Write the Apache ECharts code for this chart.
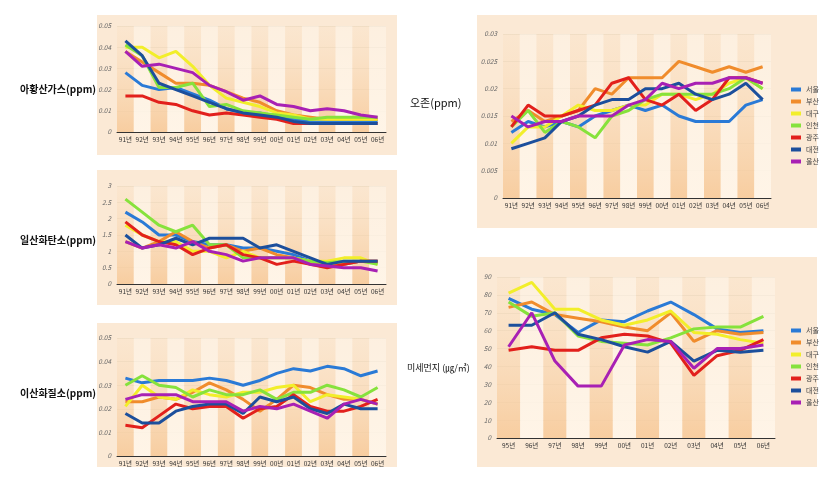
<!DOCTYPE html>
<html><head><meta charset="utf-8">
<script src="https://cdn.jsdelivr.net/npm/echarts@6/dist/echarts.min.js"></script>
<style>html,body{margin:0;padding:0;background:#fff}#c{width:840px;height:479px}</style>
</head><body><div id="c"></div>
<script>
const regions = ['서울','부산','대구','인천','광주','대전','울산'];
const colors = ['#2a7ad6','#f08c2c','#f2ee2a','#86e23c','#e2201c','#1c4f9c','#a820b4'];
const years16 = ['91년','92년','93년','94년','95년','96년','97년','98년','99년','00년','01년','02년','03년','04년','05년','06년'];
const years12 = ['95년','96년','97년','98년','99년','00년','01년','02년','03년','04년','05년','06년'];

// 아황산가스 (ppm)
const so2_seoul   = [0.028,0.022,0.020,0.021,0.018,0.015,0.011,0.009,0.009,0.007,0.006,0.005,0.005,0.005,0.005,0.005];
const so2_busan   = [0.038,0.033,0.028,0.023,0.023,0.022,0.019,0.016,0.014,0.010,0.008,0.007,0.006,0.006,0.006,0.006];
const so2_daegu   = [0.040,0.040,0.035,0.038,0.031,0.022,0.016,0.014,0.012,0.009,0.008,0.006,0.006,0.006,0.006,0.006];
const so2_incheon = [0.041,0.036,0.021,0.021,0.023,0.012,0.013,0.010,0.009,0.008,0.007,0.006,0.007,0.007,0.007,0.007];
const so2_gwangju = [0.017,0.017,0.014,0.013,0.010,0.008,0.009,0.008,0.007,0.006,0.004,0.004,0.004,0.004,0.004,0.004];
const so2_daejeon = [0.043,0.036,0.023,0.020,0.017,0.014,0.011,0.009,0.008,0.007,0.005,0.004,0.004,0.004,0.004,0.004];
const so2_ulsan   = [0.038,0.031,0.032,0.030,0.028,0.022,0.019,0.015,0.017,0.013,0.012,0.010,0.011,0.010,0.008,0.007];

// 일산화탄소 (ppm)
const co_seoul   = [2.2,1.9,1.5,1.5,1.3,1.2,1.2,1.1,1.1,1.0,0.9,0.7,0.6,0.6,0.7,0.7];
const co_busan   = [1.3,1.1,1.3,1.6,1.3,1.1,1.2,1.0,1.1,0.9,0.8,0.7,0.6,0.6,0.7,0.7];
const co_daegu   = [1.8,1.5,1.3,1.3,1.0,1.0,0.8,1.0,0.8,0.8,0.8,0.7,0.7,0.8,0.8,0.6];
const co_incheon = [2.6,2.2,1.8,1.6,1.8,1.2,1.2,0.8,0.8,0.8,0.8,0.7,0.65,0.7,0.7,0.6];
const co_gwangju = [1.9,1.5,1.3,1.2,0.9,1.1,1.2,0.9,0.8,0.6,0.7,0.6,0.5,0.6,0.7,0.7];
const co_daejeon = [1.5,1.1,1.2,1.4,1.2,1.4,1.4,1.4,1.1,1.2,1.0,0.8,0.6,0.7,0.7,0.7];
const co_ulsan   = [1.3,1.1,1.2,1.1,1.3,1.0,0.9,0.7,0.8,0.8,0.8,0.6,0.55,0.5,0.5,0.4];

// 이산화질소 (ppm)
const no2_seoul   = [0.033,0.031,0.032,0.032,0.032,0.033,0.032,0.030,0.032,0.035,0.037,0.036,0.038,0.037,0.034,0.036];
const no2_busan   = [0.023,0.023,0.025,0.024,0.027,0.031,0.028,0.024,0.019,0.024,0.030,0.029,0.026,0.024,0.024,0.022];
const no2_daegu   = [0.021,0.030,0.025,0.024,0.028,0.026,0.025,0.027,0.027,0.029,0.030,0.023,0.026,0.025,0.024,0.022];
const no2_incheon = [0.030,0.034,0.030,0.029,0.025,0.028,0.026,0.026,0.028,0.024,0.027,0.027,0.030,0.028,0.025,0.029];
const no2_gwangju = [0.013,0.012,0.017,0.022,0.020,0.021,0.021,0.016,0.020,0.021,0.026,0.021,0.019,0.019,0.021,0.024];
const no2_daejeon = [0.018,0.014,0.014,0.019,0.021,0.022,0.022,0.018,0.025,0.023,0.025,0.020,0.018,0.022,0.020,0.020];
const no2_ulsan   = [0.024,0.026,0.026,0.026,0.023,0.023,0.023,0.019,0.021,0.020,0.022,0.019,0.016,0.022,0.024,0.022];

// 오존 (ppm)
const o3_seoul   = [0.012,0.014,0.013,0.014,0.013,0.015,0.016,0.017,0.016,0.017,0.015,0.014,0.014,0.014,0.017,0.018];
const o3_busan   = [0.014,0.016,0.014,0.015,0.016,0.020,0.019,0.022,0.022,0.022,0.025,0.024,0.023,0.024,0.023,0.024];
const o3_daegu   = [0.010,0.013,0.013,0.015,0.017,0.016,0.016,0.017,0.017,0.019,0.019,0.018,0.019,0.021,0.022,0.020];
const o3_incheon = [0.013,0.016,0.012,0.014,0.013,0.011,0.015,0.016,0.018,0.019,0.019,0.019,0.019,0.020,0.022,0.020];
const o3_gwangju = [0.013,0.017,0.015,0.015,0.016,0.017,0.021,0.022,0.018,0.017,0.019,0.016,0.018,0.022,0.022,0.021];
const o3_daejeon = [0.009,0.010,0.011,0.014,0.015,0.017,0.018,0.018,0.020,0.020,0.021,0.019,0.018,0.019,0.021,0.018];
const o3_ulsan   = [0.015,0.013,0.014,0.014,0.015,0.015,0.015,0.017,0.018,0.021,0.020,0.021,0.021,0.022,0.022,0.021];

// 미세먼지 (㎍/㎥)
const pm_seoul   = [78,72,69,59,66,65,71,76,69,61,59,60];
const pm_busan   = [73,76,69,67,65,62,60,70,54,60,58,59];
const pm_daegu   = [81,87,72,72,66,63,66,71,59,58,55,53];
const pm_incheon = [76,68,70,57,54,53,52,56,61,62,62,68];
const pm_gwangju = [49,51,49,49,56,58,57,53,35,46,49,55];
const pm_daejeon = [63,63,70,58,55,51,48,54,43,49,48,49];
const pm_ulsan   = [51,70,43,29,29,52,55,54,39,50,50,52];

const panels = [
  {data:[so2_seoul,so2_busan,so2_daegu,so2_incheon,so2_gwangju,so2_daejeon,so2_ulsan], cats:years16, max:0.05, interval:0.01},
  {data:[co_seoul,co_busan,co_daegu,co_incheon,co_gwangju,co_daejeon,co_ulsan], cats:years16, max:3, interval:0.5},
  {data:[no2_seoul,no2_busan,no2_daegu,no2_incheon,no2_gwangju,no2_daejeon,no2_ulsan], cats:years16, max:0.05, interval:0.01},
  {data:[o3_seoul,o3_busan,o3_daegu,o3_incheon,o3_gwangju,o3_daejeon,o3_ulsan], cats:years16, max:0.03, interval:0.005},
  {data:[pm_seoul,pm_busan,pm_daegu,pm_incheon,pm_gwangju,pm_daejeon,pm_ulsan], cats:years12, max:90, interval:10}
];
const grids = [
  {left:117, top:26, width:269, height:106},
  {left:117, top:186, width:269, height:98},
  {left:117, top:338, width:269, height:118},
  {left:503, top:34, width:268, height:164},
  {left:497, top:277, width:278, height:161}
];
const boxes = [[97,15,300,140],[97,170,300,135],[97,323,300,144],[477,15,340,213],[477,257,340,210]];

const darkBand = new echarts.graphic.LinearGradient(0,0,0,1,[{offset:0,color:'rgba(250,224,194,0.3)'},{offset:1,color:'rgba(247,202,154,0.9)'}]);
const lightBand = new echarts.graphic.LinearGradient(0,0,0,1,[{offset:0,color:'rgba(255,246,234,0.5)'},{offset:1,color:'rgba(255,245,232,0.95)'}]);

const option = {
  animation:false,
  textStyle:{fontFamily:'"Noto Sans CJK KR", sans-serif'},
  graphic: boxes.map(b=>({type:'rect', z:-10, shape:{x:b[0],y:b[1],width:b[2],height:b[3]},
     style:{fill:'#fbe9d5'}})).concat([
    {type:'text', left:20, top:84, style:{text:'아황산가스(ppm)', font:'bold 10px "Noto Sans CJK KR"', fill:'#111'}},
    {type:'text', left:20, top:235, style:{text:'일산화탄소(ppm)', font:'bold 10px "Noto Sans CJK KR"', fill:'#111'}},
    {type:'text', left:20, top:388, style:{text:'이산화질소(ppm)', font:'bold 10px "Noto Sans CJK KR"', fill:'#111'}},
    {type:'text', left:410, top:97, style:{text:'오존(ppm)', font:'11px "Noto Sans CJK KR"', fill:'#111'}},
    {type:'text', left:407, top:363, style:{text:'미세먼지 (㎍/㎥)', font:'9px "Noto Sans CJK KR"', fill:'#111'}}
  ]),
  legend:[
    {orient:'vertical', left:786, top:81, itemWidth:10, itemHeight:4, itemGap:5, icon:'rect', data:regions,
     textStyle:{fontSize:7, color:'#444'}},
    {orient:'vertical', left:786, top:322, itemWidth:10, itemHeight:4, itemGap:5, icon:'rect', data:regions,
     textStyle:{fontSize:7, color:'#444'}}
  ],
  grid: grids,
  xAxis: panels.map((p,i)=>({type:'category', gridIndex:i, data:p.cats, boundaryGap:true,
     axisLine:{lineStyle:{color:'#333', width:1}}, axisTick:{show:false},
     axisLabel:{fontSize:6.5, color:'#333', margin:4, interval:0},
     splitArea:{show:true, areaStyle:{color:[darkBand, lightBand]}}})),
  yAxis: panels.map((p,i)=>({type:'value', gridIndex:i, min:0, max:p.max, interval:p.interval,
     axisLine:{show:false}, axisTick:{show:false},
     axisLabel:{fontSize:6.5, color:'#666', margin:6, fontStyle:'italic'},
     splitLine:{lineStyle:{color:'#ecdcc6', width:1}}})),
  series: []
};
panels.forEach((p,i)=>{
  p.data.forEach((d,k)=>{
    option.series.push({type:'line', name:regions[k], xAxisIndex:i, yAxisIndex:i, data:d,
      symbol:'none', color:colors[k], lineStyle:{width:3, color:colors[k]}});
  });
});
const chart = echarts.init(document.getElementById('c'), null, {renderer:'canvas'});
chart.setOption(option);
</script></body></html>
